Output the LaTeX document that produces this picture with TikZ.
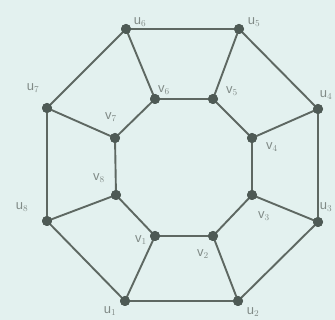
\documentclass[tikz,border=0pt]{standalone}
\usepackage{fontspec}
\setmainfont{Liberation Sans}
\begin{document}
\begin{tikzpicture}[x=1pt,y=-1pt,
  vert/.style={circle,fill=vcol,inner sep=0pt,minimum size=10pt},
  edge/.style={draw=ecol,line width=1.9pt},
  lab/.style={text=lcol,font=\fontsize{13}{14}\selectfont,inner sep=0pt}]
\definecolor{bg}{HTML}{E3F1EF}
\definecolor{ecol}{HTML}{5E6862}
\definecolor{vcol}{HTML}{4E5A55}
\definecolor{lcol}{HTML}{808A86}
\fill[bg] (0,0) rectangle (335,320);
\useasboundingbox (0,0) rectangle (335,320);
% outer vertices
\node[vert] (u1) at (125,301) {};
\node[vert] (u2) at (238,301) {};
\node[vert] (u3) at (318,222) {};
\node[vert] (u4) at (318,109) {};
\node[vert] (u5) at (239,29) {};
\node[vert] (u6) at (126,29) {};
\node[vert] (u7) at (47,108) {};
\node[vert] (u8) at (47,221) {};
% inner vertices
\node[vert] (v1) at (155,236) {};
\node[vert] (v2) at (213,236) {};
\node[vert] (v3) at (252,195) {};
\node[vert] (v4) at (252,138) {};
\node[vert] (v5) at (213,99) {};
\node[vert] (v6) at (155,99) {};
\node[vert] (v7) at (115,138) {};
\node[vert] (v8) at (116,195) {};
% edges
\foreach \a/\b in {u1/u2,u2/u3,u3/u4,u4/u5,u5/u6,u6/u7,u7/u8,u8/u1,
                   v1/v2,v2/v3,v3/v4,v4/v5,v5/v6,v6/v7,v7/v8,v8/v1,
                   u1/v1,u2/v2,u3/v3,u4/v4,u5/v5,u6/v6,u7/v7,u8/v8}
  \draw[edge] (\a.center) -- (\b.center);
% redraw vertices on top
\foreach \n in {u1,u2,u3,u4,u5,u6,u7,u8,v1,v2,v3,v4,v5,v6,v7,v8}
  \fill[vcol] (\n.center) circle (5pt);
% labels
\node[lab] (lu1) at (110,311) {u$_1$};
\node[lab] (lu2) at (253,312) {u$_2$};
\node[lab] (lu3) at (326,207) {u$_3$};
\node[lab] (lu4) at (326,95) {u$_4$};
\node[lab] (lu5) at (254,22) {u$_5$};
\node[lab] (lu6) at (140,22) {u$_6$};
\node[lab] (lu7) at (33,88) {u$_7$};
\node[lab] (lu8) at (22,207) {u$_8$};
\node[lab] (lv1) at (141,240) {v$_1$};
\node[lab] (lv2) at (203,254) {v$_2$};
\node[lab] (lv3) at (264,216) {v$_3$};
\node[lab] (lv4) at (272,147) {v$_4$};
\node[lab] (lv5) at (232,91) {v$_5$};
\node[lab] (lv6) at (164,90) {v$_6$};
\node[lab] (lv7) at (111,117) {v$_7$};
\node[lab] (lv8) at (99,178) {v$_8$};
\end{tikzpicture}
\end{document}
